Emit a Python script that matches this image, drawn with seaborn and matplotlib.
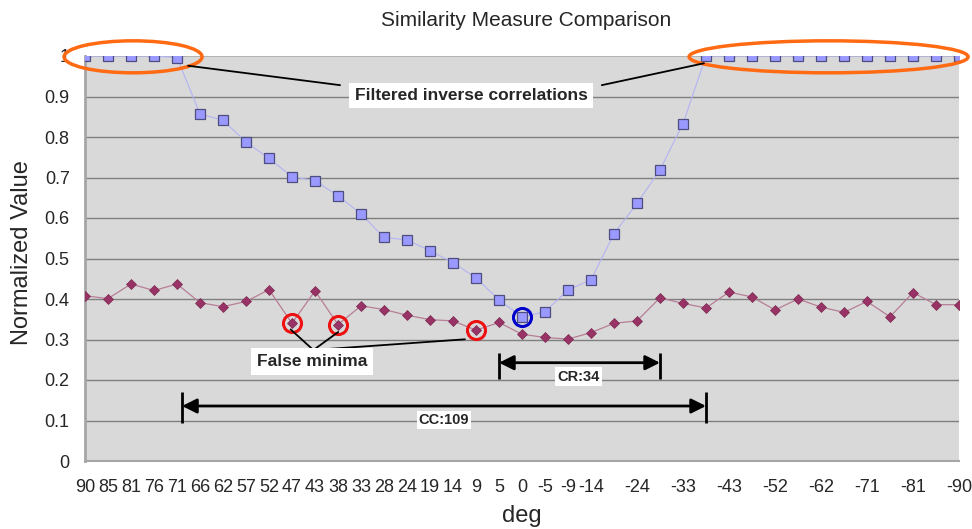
import numpy as np
import pandas as pd
import matplotlib
matplotlib.use("Agg")
import matplotlib.pyplot as plt
import seaborn as sns
from matplotlib.patches import Ellipse

# --- data ---
deg = [90, 85, 81, 76, 71, 66, 62, 57, 52, 47, 43, 38, 33, 28, 24, 19, 14, 9, 5, 0,
       -5, -9, -14, -19, -24, -28, -33, -38, -43, -47, -52, -57, -62, -66, -71, -76,
       -81, -85, -90]

inv_corr = [1.0, 1.0, 1.0, 1.0, 0.996, 0.857, 0.841, 0.788, 0.747, 0.702, 0.692, 0.655,
            0.610, 0.552, 0.546, 0.519, 0.490, 0.452, 0.398, 0.355, 0.369, 0.422, 0.448,
            0.561, 0.636, 0.719, 0.833, 1.0, 1.0, 1.0, 1.0, 1.0, 1.0, 1.0, 1.0, 1.0,
            1.0, 1.0, 1.0]

similarity = [0.408, 0.401, 0.437, 0.421, 0.437, 0.391, 0.381, 0.394, 0.423, 0.340, 0.420,
              0.337, 0.383, 0.374, 0.360, 0.349, 0.346, 0.323, 0.342, 0.313, 0.305, 0.301,
              0.317, 0.340, 0.346, 0.403, 0.389, 0.378, 0.417, 0.405, 0.373, 0.400, 0.380,
              0.367, 0.394, 0.356, 0.416, 0.386, 0.386]

false_minima = [9, 11, 17]   # indices of the red-circled points
best_match = 19              # index of the blue-circled point

df = pd.DataFrame({"idx": np.arange(len(deg)), "deg": deg,
                   "inv": inv_corr, "sim": similarity})

sns.set_style("white")
plt.rcParams["font.family"] = ["Liberation Sans", "DejaVu Sans"]

fig = plt.figure(figsize=(9.72, 5.29), dpi=100)
ax = fig.add_axes([85 / 972, 68 / 529, 874 / 972, 405 / 529])
ax.set_facecolor("#d9d9d9")

# gridlines
for v in np.arange(0.1, 1.0, 0.1):
    ax.axhline(v, color="#7f7f7f", lw=1.0, zorder=1)
ax.axhline(1.0, color="#b3b3b3", lw=1.5, zorder=1)

sns.lineplot(data=df, x="idx", y="inv", ax=ax, color="#b3b3f5", linewidth=0.8,
             marker="s", markersize=7, markerfacecolor="#9999ff",
             markeredgecolor="#4d4d80", markeredgewidth=0.9, zorder=3)
sns.lineplot(data=df, x="idx", y="sim", ax=ax, color="#b87d97", linewidth=0.9,
             marker="D", markersize=5.5, markerfacecolor="#993366",
             markeredgecolor="#7a2952", markeredgewidth=0.5, zorder=3)

# circled points
ax.plot(df["idx"].iloc[false_minima], df["sim"].iloc[false_minima], "o", mfc="none",
        mec="#ee1111", ms=13, mew=2.2, zorder=4)
ax.plot([best_match], [inv_corr[best_match]], "o", mfc="none",
        mec="#0000cc", ms=13, mew=2.2, zorder=4)

# orange ellipses
for cx, w in [(2.09, 6.0), (32.33, 12.13)]:
    ax.add_patch(Ellipse((cx, 0.998), w, 0.079, fill=False, ec="#ff6a13",
                         lw=2.5, clip_on=False, zorder=5))

# label for filtered inverse correlations
ax.plot([4.48, 11.09], [0.976, 0.928], color="black", lw=1.3, zorder=5)
ax.plot([22.47, 26.91], [0.928, 0.982], color="black", lw=1.3, zorder=5)
ax.text(16.78, 0.902, "Filtered inverse correlations", ha="center", va="center",
        fontsize=12.5, fontweight="bold", zorder=6,
        bbox=dict(facecolor="white", edgecolor="none", boxstyle="square,pad=0.3"))

# false minima label
for tx, ty in [(8.94, 0.325), (11.01, 0.3185), (16.52, 0.3005)]:
    ax.plot([9.93, tx], [0.274, ty], color="black", lw=1.3, zorder=5)
ax.text(9.87, 0.245, "False minima", ha="center", va="center", fontsize=12.5,
        fontweight="bold", zorder=6,
        bbox=dict(facecolor="white", edgecolor="none", boxstyle="square,pad=0.35"))

# CR / CC ranges
def span(x0, x1, y, y_lo, y_hi, label, ty, tx):
    ax.annotate("", xy=(x0, y), xytext=(x1, y),
                arrowprops=dict(arrowstyle="<|-|>", color="black", lw=2,
                                mutation_scale=22, shrinkA=0, shrinkB=0), zorder=5)
    ax.vlines([x0, x1], y_lo, y_hi, color="black", lw=2, zorder=5)
    ax.text(tx, ty, label, ha="center", va="center", fontsize=10.5, fontweight="bold",
            zorder=6, bbox=dict(facecolor="white", edgecolor="none", pad=1.5))

span(18, 25, 0.2427, 0.2025, 0.2667, "CR:34", 0.2086, 21.46)
span(4.22, 27, 0.1358, 0.0946, 0.171, "CC:109", 0.101, 15.6)

# axes styling
ax.set_xlim(0, len(deg) - 1)
ax.set_ylim(0, 1)
ax.set_xticks(df["idx"])
ax.set_xticklabels([str(d) if (i <= 22 or i % 2 == 0) else "" for i, d in enumerate(deg)])
ax.set_yticks(np.arange(0, 1.01, 0.1))
ax.set_yticklabels(["0", "0.1", "0.2", "0.3", "0.4", "0.5", "0.6", "0.7", "0.8", "0.9", "1"])
ax.tick_params(axis="x", length=6, width=1, color="#a0a0a0", pad=7, labelsize=13)
ax.tick_params(axis="y", length=6, width=1, color="#a0a0a0", pad=5, labelsize=13)
for s in ["top", "right"]:
    ax.spines[s].set_visible(False)
ax.spines["left"].set_color("#a6a6a6")
ax.spines["left"].set_linewidth(2)
ax.spines["bottom"].set_color("#a6a6a6")
ax.spines["bottom"].set_linewidth(1.5)

ax.set_xlabel("deg", fontsize=17)
ax.xaxis.set_label_coords(0.5, -0.1086)
ax.set_ylabel("Normalized Value", fontsize=17)
ax.yaxis.set_label_coords(-0.0595, 0.514)
fig.text(526 / 972, 1 - 20 / 529, "Similarity Measure Comparison", ha="center",
         va="center", fontsize=15)

fig.savefig("out.png", dpi=100)
